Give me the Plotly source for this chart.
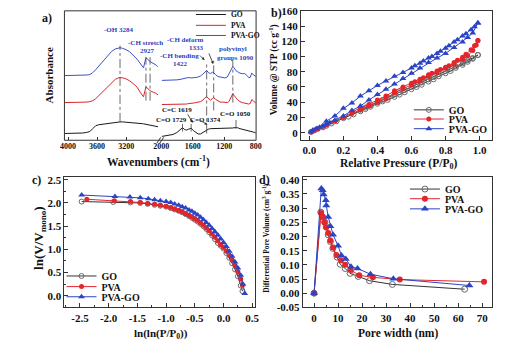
import plotly.graph_objects as go

W, H = 516, 352
FONT = "Liberation Serif"


def px(x):
    return x / W


def py(y):
    return 1 - y / H


# ---------------- (a) FTIR data ----------------
ftir_left_wn = [4050, 3900, 3800, 3750, 3700, 3660, 3620, 3580, 3540, 3500, 3450, 3400, 3350, 3300,
                3284, 3250, 3200, 3150, 3100, 3050, 3000, 2980, 2960, 2945, 2935, 2927, 2915, 2900,
                2880, 2860, 2840, 2820, 2800, 2780, 2760]
ftir_go_left = [7, 7, 7.5, 8, 9, 12, 15, 16, 16.5, 17, 17.3, 17.8, 18.5, 19,
                19, 19, 18.8, 18.5, 18.3, 18, 17.5, 17.2, 17, 16.8, 16.7, 16.6, 16.5, 16.3,
                16, 15.8, 15.6, 15.3, 15, 14.5, 14]
ftir_pva_left = [39, 39, 39, 39.5, 40, 41, 43, 46, 49, 52, 56, 60, 63, 64.8,
                 65, 64.7, 63.5, 61.5, 58.5, 55, 49, 47, 45, 50, 54, 55, 54.5, 53,
                 52, 51, 50, 49.5, 49, 48, 47]
ftir_pvago_left = [67, 67, 67.3, 67.5, 68, 70, 73, 76.5, 80, 83.5, 88, 92, 94.5, 95.7,
                   95.8, 95.2, 93.8, 91.5, 88, 84, 79, 77, 75, 80, 84.5, 85.5, 85, 83.5,
                   82, 81, 80.3, 79.5, 79, 77.5, 76]

ftir_right_wn = [1990, 1950, 1900, 1850, 1800, 1760, 1729, 1700, 1680, 1650, 1619, 1590, 1560, 1530,
                 1500, 1470, 1445, 1422, 1400, 1374, 1350, 1333, 1310, 1280, 1250, 1220, 1190, 1160,
                 1140, 1120, 1105, 1090, 1075, 1060, 1050, 1030, 1000, 970, 940, 910, 890, 870,
                 850, 830, 810, 800]
ftir_go_right = [4, 4.5, 5, 6, 8, 10.5, 13, 11, 10.5, 11.5, 12.5, 10, 8, 6.5,
                 6.5, 8, 10, 11, 11.5, 12, 12, 12, 12, 12, 12, 12, 12, 12,
                 12, 12.3, 12.5, 12.7, 13, 13.2, 13.3, 13, 12, 11.5, 11, 10.5, 10, 9.5,
                 9, 8.5, 8, 7.5]
ftir_pva_right = [37, 37, 37, 37, 37, 37.2, 37.5, 37.5, 37.5, 38, 38, 38.5, 39, 39.5,
                  40, 41.5, 44, 45, 43, 41.5, 43, 44, 42.5, 40.5, 39.5, 39.5, 39, 39,
                  40, 43, 46, 48.3, 46.5, 44.5, 44, 42, 40, 39, 38.5, 38, 37.5, 38,
                  42, 41, 39, 38.5]
ftir_pvago_right = [62, 62, 62, 62, 62.5, 63, 63.5, 64.5, 65, 65, 64.5, 64.5, 65, 65.5,
                    66.5, 68.5, 71, 72.3, 70, 69, 70.5, 70, 68, 66, 65.5, 65, 64.5, 65.5,
                    69, 72.5, 75, 76.5, 75, 73, 72, 71, 69.5, 69, 69, 67, 65, 65,
                    69.5, 68, 66.5, 66]

# marked bands: (wavenumber, low, high)
band_left = [(3284, 19, 98), (2927, 41, 86), (2870, 41, 86)]
band_right = [(1422, 7, 79), (1333, 31, 82), (1090, 39, 83), (1729, 9, 17), (1619, 9, 17), (1050, 12, 21)]

# ---------------- (b) isotherms ----------------
go_ads_p = [0.01, 0.03, 0.05, 0.08, 0.10, 0.13, 0.16, 0.20, 0.23, 0.26, 0.30, 0.33, 0.36, 0.40, 0.43,
            0.46, 0.50, 0.53, 0.56, 0.60, 0.63, 0.66, 0.70, 0.73, 0.76, 0.80, 0.83, 0.86, 0.90, 0.93,
            0.96, 0.99]
go_ads_v = [1, 3, 5, 7, 9, 12, 15, 19, 21, 24, 28, 31, 34, 38, 41,
            43, 47, 50, 53, 57, 60, 63, 67, 70, 74, 78, 81, 85, 89, 93,
            97, 102]
go_des_p = [0.99, 0.96, 0.93, 0.90, 0.86, 0.83, 0.80, 0.76, 0.73, 0.70, 0.66, 0.63, 0.60, 0.56,
            0.53, 0.50, 0.46, 0.43, 0.40, 0.36, 0.33, 0.30]
go_des_v = [102, 98, 95, 91, 87, 84, 81, 77, 73, 70, 66, 63, 60, 56,
            53, 50, 46, 43, 40, 36, 33, 30]

pva_ads_p = [0.01, 0.03, 0.05, 0.08, 0.10, 0.15, 0.20, 0.25, 0.30, 0.35, 0.40, 0.45, 0.50, 0.55,
             0.60, 0.65, 0.70, 0.75, 0.80, 0.85, 0.90, 0.93, 0.96, 0.98, 0.99]
pva_ads_v = [1, 3, 5, 8, 10, 15, 20, 25, 30, 35, 40, 45, 52, 58,
             63, 68, 74, 79, 85, 90, 96, 101, 108, 115, 121]
pva_des_p = [0.99, 0.97, 0.95, 0.92, 0.90, 0.87, 0.85, 0.82, 0.80, 0.77, 0.75, 0.72, 0.70, 0.67,
             0.65, 0.62, 0.60, 0.55, 0.50, 0.45, 0.40, 0.35, 0.30, 0.25]
pva_des_v = [121, 114, 109, 103, 99, 95, 92, 88, 86, 83, 81, 78, 76, 72,
             70, 67, 65, 60, 55, 48, 43, 37, 32, 27]

pvago_ads_p = [0.01, 0.02, 0.04, 0.06, 0.08, 0.10, 0.12, 0.15, 0.20, 0.25, 0.30, 0.35, 0.40, 0.45,
               0.50, 0.55, 0.60, 0.65, 0.70, 0.75, 0.80, 0.85, 0.90, 0.93, 0.96, 0.99]
pvago_ads_v = [1, 3, 5, 7, 9, 11, 13, 16, 22, 29, 35, 43, 50, 57,
               64, 71, 78, 85, 92, 98, 104, 112, 119, 125, 131, 144]
pvago_des_p = [0.99, 0.97, 0.95, 0.92, 0.90, 0.87, 0.85, 0.82, 0.80, 0.77, 0.75, 0.72, 0.70, 0.67,
               0.65, 0.62, 0.60, 0.55, 0.50, 0.45, 0.40, 0.35, 0.30, 0.25, 0.20, 0.15, 0.10]
pvago_des_v = [144, 139, 135, 130, 127, 122, 119, 114, 111, 107, 104, 100, 98, 94,
               91, 88, 85, 79, 74, 68, 62, 55, 48, 39, 32, 22, 15]

# ---------------- (c) FHH plot ----------------
c_go_x = [-2.47, -1.92, -1.62, -1.45, -1.32, -1.20, -1.10, -1.00, -0.92, -0.85, -0.78, -0.72, -0.66,
          -0.60, -0.55, -0.50, -0.45, -0.40, -0.35, -0.30, -0.25, -0.20, -0.15, -0.10, -0.05, 0.00,
          0.05, 0.10, 0.15, 0.20, 0.25, 0.30, 0.33]
c_go_y = [2.03, 2.02, 2.01, 2.00, 1.98, 1.96, 1.94, 1.92, 1.89, 1.86, 1.83, 1.80, 1.76,
          1.72, 1.68, 1.64, 1.60, 1.55, 1.50, 1.44, 1.37, 1.30, 1.22, 1.14, 1.08, 1.02,
          0.92, 0.82, 0.70, 0.57, 0.42, 0.22, 0.10]
c_pva_x = [-2.38, -1.90, -1.62, -1.45, -1.32, -1.20, -1.10, -1.00, -0.92, -0.85, -0.78, -0.72, -0.66,
           -0.60, -0.55, -0.50, -0.45, -0.40, -0.35, -0.30, -0.25, -0.20, -0.15, -0.10, -0.05, 0.00,
           0.05, 0.10, 0.15, 0.20, 0.25, 0.30, 0.33]
c_pva_y = [2.08, 2.05, 2.03, 2.01, 1.99, 1.97, 1.95, 1.93, 1.90, 1.87, 1.84, 1.81, 1.77,
           1.73, 1.70, 1.66, 1.62, 1.57, 1.52, 1.46, 1.40, 1.33, 1.26, 1.18, 1.10, 1.04,
           0.96, 0.87, 0.77, 0.65, 0.52, 0.36, 0.23]
c_pvago_x = [-2.47, -1.89, -1.63, -1.45, -1.31, -1.20, -1.10, -1.00, -0.92, -0.85, -0.78, -0.72, -0.66,
             -0.60, -0.55, -0.50, -0.45, -0.40, -0.35, -0.30, -0.25, -0.20, -0.15, -0.10, -0.05, 0.00,
             0.05, 0.10, 0.15, 0.20, 0.25, 0.30, 0.34, 0.37]
c_pvago_y = [2.17, 2.14, 2.13, 2.11, 2.09, 2.07, 2.05, 2.03, 2.01, 1.98, 1.95, 1.92, 1.89,
             1.85, 1.82, 1.78, 1.74, 1.69, 1.64, 1.58, 1.52, 1.45, 1.38, 1.31, 1.23, 1.15,
             1.06, 0.96, 0.85, 0.73, 0.60, 0.44, 0.25, 0.05]

# ---------------- (d) pore size distribution ----------------
d_go_x = [0, 2.8, 3.5, 4.5, 5.1, 5.9, 6.8, 7.8, 9.6, 10.9, 13.0, 15.0, 18.4, 23.1, 32.6, 62.7]
d_go_y = [0.0, 0.286, 0.269, 0.250, 0.235, 0.206, 0.182, 0.158, 0.127, 0.102, 0.087, 0.070, 0.059,
          0.044, 0.031, 0.014]
d_pva_x = [0, 2.9, 3.6, 4.3, 5.0, 5.9, 6.8, 7.9, 9.3, 11.2, 13.0, 15.3, 18.8, 24.5, 35.7, 70.8]
d_pva_y = [0.0, 0.283, 0.270, 0.250, 0.232, 0.212, 0.186, 0.161, 0.135, 0.116, 0.100, 0.082, 0.063,
           0.056, 0.048, 0.040]
d_pvago_x = [0, 3.0, 3.6, 4.0, 4.9, 5.1, 5.9, 6.8, 7.9, 10.0, 11.4, 13.2, 15.4, 18.1, 23.5, 33.0, 64.7]
d_pvago_y = [0.0, 0.369, 0.363, 0.348, 0.328, 0.309, 0.269, 0.236, 0.206, 0.167, 0.133, 0.121, 0.093,
             0.087, 0.067, 0.051, 0.027]

# ---------------- ticks ----------------
a_left_ticks = [4000, 3600, 3200]
a_right_ticks = [2000, 1600, 1200, 800]
b_xticks = [0.0, 0.2, 0.4, 0.6, 0.8, 1.0]
b_xtext = ["0.0", "0.2", "0.4", "0.6", "0.8", "1.0"]
b_yticks = [0, 20, 40, 60, 80, 100, 120, 140, 160]
c_xticks = [-2.5, -2.0, -1.5, -1.0, -0.5, 0.0, 0.5]
c_xtext = ["-2.5", "-2.0", "-1.5", "-1.0", "-0.5", "0.0", "0.5"]
c_yticks = [0.0, 0.5, 1.0, 1.5, 2.0, 2.5]
c_ytext = ["0.0", "0.5", "1.0", "1.5", "2.0", "2.5"]
d_xticks = [0, 10, 20, 30, 40, 50, 60, 70]
d_yticks = [-0.05, 0.0, 0.05, 0.10, 0.15, 0.20, 0.25, 0.30, 0.35, 0.40]
d_ytext = ["-0.05", "0.00", "0.05", "0.10", "0.15", "0.20", "0.25", "0.30", "0.35", "0.40"]

names = ["GO", "PVA", "PVA-GO"]
C_GO, C_PVA, C_PVAGO = "#333333", "#e3262b", "#2b44c4"
A_GO, A_PVA, A_PVAGO = "#1a1a1a", "#d8262c", "#3b50c6"
BLUE_TXT = "#2d3fb8"

fig = go.Figure()

# ---- panel a traces ----
a_cols = [A_GO, A_PVA, A_PVAGO]
a_left = [ftir_go_left, ftir_pva_left, ftir_pvago_left]
a_right = [ftir_go_right, ftir_pva_right, ftir_pvago_right]
for i in range(3):
    fig.add_trace(go.Scatter(x=ftir_left_wn, y=a_left[i], mode="lines", name=names[i],
                             line=dict(color=a_cols[i], width=1), xaxis="x", yaxis="y",
                             legend="legend" if i == 0 else f"legend{i + 1}"))
    fig.add_trace(go.Scatter(x=ftir_right_wn, y=a_right[i], mode="lines", name=names[i],
                             line=dict(color=a_cols[i], width=1), xaxis="x2", yaxis="y",
                             showlegend=False))

markers = [dict(symbol="circle-open", size=5, color="#6a6a6a", line=dict(width=1)),
           dict(symbol="circle", size=5, color=C_PVA),
           dict(symbol="triangle-up", size=6, color=C_PVAGO)]
lcols = [C_GO, C_PVA, C_PVAGO]

# ---- panel b ----
bx = [go_ads_p + go_des_p, pva_ads_p + pva_des_p, pvago_ads_p + pvago_des_p]
by = [go_ads_v + go_des_v, pva_ads_v + pva_des_v, pvago_ads_v + pvago_des_v]
for i in range(3):
    fig.add_trace(go.Scatter(x=bx[i], y=by[i], mode="lines+markers", name=names[i],
                             line=dict(color=lcols[i], width=1), marker=markers[i],
                             xaxis="x3", yaxis="y2", legend=f"legend{i + 4}"))

# ---- panel c ----
cx = [c_go_x, c_pva_x, c_pvago_x]
cy = [c_go_y, c_pva_y, c_pvago_y]
for i in range(3):
    fig.add_trace(go.Scatter(x=cx[i], y=cy[i], mode="lines+markers", name=names[i],
                             line=dict(color=lcols[i], width=1), marker=markers[i],
                             xaxis="x4", yaxis="y3", legend=f"legend{i + 7}"))

# ---- panel d ----
dxs = [d_go_x, d_pva_x, d_pvago_x]
dys = [d_go_y, d_pva_y, d_pvago_y]
dmarkers = [dict(symbol="circle-open", size=6, color="#6a6a6a", line=dict(width=1)),
            dict(symbol="circle", size=6, color=C_PVA),
            dict(symbol="triangle-up", size=7, color=C_PVAGO)]
for i in range(3):
    fig.add_trace(go.Scatter(x=dxs[i], y=dys[i], mode="lines+markers", name=names[i],
                             line=dict(color=lcols[i], width=1), marker=dmarkers[i],
                             xaxis="x5", yaxis="y4", legend=f"legend{i + 10}"))

tickfont = dict(family=FONT, size=11, color="#111", weight="bold")
small_tickfont = dict(family=FONT, size=8, color="#111", weight="bold")
LINE = "#333333"


def ax(domain, rng, anchor, **kw):
    d = dict(domain=domain, range=rng, anchor=anchor, showgrid=False, zeroline=False,
             showline=True, mirror=True, linecolor=LINE, linewidth=1,
             ticks="inside", ticklen=4, tickcolor=LINE, tickfont=tickfont)
    d.update(kw)
    return d


layout = dict(
    width=W, height=H, margin=dict(l=0, r=0, t=0, b=0), autosize=False,
    paper_bgcolor="white", plot_bgcolor="white",
    font=dict(family=FONT, color="#111", weight="bold"),
    xaxis=ax([px(58), px(155)], [4050, 2750], "y", showline=False, mirror=False,
             tickmode="array", tickvals=a_left_ticks, ticktext=[str(t) for t in a_left_ticks],
             tickfont=small_tickfont, ticklen=3),
    xaxis2=ax([px(157), px(255)], [2005, 795], "y", showline=False, mirror=False,
              tickmode="array", tickvals=a_right_ticks, ticktext=[str(t) for t in a_right_ticks],
              tickfont=small_tickfont, ticklen=3),
    yaxis=ax([py(139), py(5)], [0, 134], "x", showline=False, mirror=False,
             showticklabels=False, ticks=""),
    xaxis3=ax([px(301), px(497)], [-0.05, 1.07], "y2", tickmode="array",
              tickvals=b_xticks, ticktext=b_xtext),
    yaxis2=ax([py(139), py(5)], [-10, 160], "x3", tickmode="array",
              tickvals=b_yticks, ticktext=[str(t) for t in b_yticks]),
    xaxis4=ax([px(58), px(254)], [-2.77, 0.55], "y3", tickmode="array",
              tickvals=c_xticks, ticktext=c_xtext,
              minor=dict(ticks="inside", ticklen=2, tickcolor=LINE, tickmode="linear", tick0=0, dtick=0.25)),
    yaxis3=ax([py(312), py(177)], [-0.25, 2.56], "x4", tickmode="array",
              tickvals=c_yticks, ticktext=c_ytext,
              minor=dict(ticks="inside", ticklen=2, tickcolor=LINE, tickmode="linear", tick0=0, dtick=0.25)),
    xaxis5=ax([px(303), px(497)], [-4.7, 73.9], "y4", tickmode="array",
              tickvals=d_xticks, ticktext=[str(t) for t in d_xticks],
              minor=dict(ticks="inside", ticklen=2, tickcolor=LINE, tickmode="linear", tick0=0, dtick=5)),
    yaxis4=ax([py(312), py(177)], [-0.05, 0.41], "x5", tickmode="array",
              tickvals=d_yticks, ticktext=d_ytext),
)


def leg(xl, yc, size):
    return dict(x=px(xl), y=py(yc - 14.5), xanchor="left", yanchor="top",
                bgcolor="rgba(0,0,0,0)", borderwidth=0, itemwidth=30, tracegroupgap=0,
                font=dict(family=FONT, size=size, color="#111", weight="bold"))


leg_pos = [(188, 8, 7.5), (188, 19.5, 7.5), (188, 30, 7.5),
           (412, 107, 10), (412, 116.5, 10), (412, 126.5, 10),
           (55, 279, 10), (55, 290, 10), (55, 300.5, 10),
           (408, 189, 10), (408, 199, 10), (408, 209.5, 10)]
for k, (xl, yc, sz) in enumerate(leg_pos):
    key = "legend" if k == 0 else f"legend{k + 1}"
    layout[key] = leg(xl, yc, sz)

fig.update_layout(**layout)

# ---- shapes ----
shapes = [
    dict(type="rect", xref="paper", yref="paper", x0=px(58), x1=px(255), y0=py(139), y1=py(5),
         line=dict(color=LINE, width=1)),
    dict(type="line", xref="paper", yref="paper", x0=px(153), x1=px(157), y0=py(142), y1=py(136),
         line=dict(color=LINE, width=1)),
    dict(type="line", xref="paper", yref="paper", x0=px(156), x1=px(160), y0=py(142), y1=py(136),
         line=dict(color=LINE, width=1)),
]
for wn, lo, hi in band_left:
    shapes.append(dict(type="line", xref="x", yref="y", x0=wn, x1=wn, y0=lo, y1=hi,
                       line=dict(color="#444", width=0.8, dash="dashdot")))
for wn, lo, hi in band_right:
    shapes.append(dict(type="line", xref="x2", yref="y", x0=wn, x1=wn, y0=lo, y1=hi,
                       line=dict(color="#444", width=0.8, dash="dashdot")))
fig.update_layout(shapes=shapes)

# ---- annotations ----
ann = []


def txt(t, x, y, size, color="#111", angle=0):
    ann.append(dict(text=t, x=px(x), y=py(y), xref="paper", yref="paper", showarrow=False,
                    xanchor="center", yanchor="middle", textangle=angle,
                    font=dict(family=FONT, size=size, color=color, weight="bold")))


txt("a)", 40, 12, 12)
txt("b)", 276, 7, 12)
txt("c)", 29, 180, 12)
txt("d)", 264, 180, 12)
txt("Absorbance", 42, 72, 11, angle=-90)
txt("Wavenumbers (cm<sup>-1</sup>)", 155, 161, 11.5)
txt("Volume @ STP (cc g<sup>-1</sup>)", 273, 66, 9.5, angle=-90)
txt("Relative Pressure (P/P<sub>0</sub>)", 401, 164, 11.5)
txt("ln(V/V<sub>mono</sub>)", 33, 240, 13, angle=-90)
txt("ln(ln(P/P<sub>0</sub>))", 157, 340, 11)
txt("Pore width (nm)", 401, 339, 11.5)
txt("Differential Pore Volume (cm<sup>3</sup> g<sup>-1</sup>)", 265, 240, 7.5, angle=-90)

# band labels in panel a
txt("-OH 3284", 114, 25, 7, BLUE_TXT)
txt("-CH stretch", 141, 38, 7, BLUE_TXT)
txt("2927", 143, 47, 7, BLUE_TXT)
txt("-CH deform", 182, 35, 7, BLUE_TXT)
txt("1333", 194, 43, 7, BLUE_TXT)
txt("-CH bending", 176, 52, 7, BLUE_TXT)
txt("1422", 177, 60, 7, BLUE_TXT)
txt("polyvinyl", 231, 45, 7, BLUE_TXT)
txt("groups 1090", 234, 54, 7, BLUE_TXT)
txt("C=C 1619", 174, 108, 7)
txt("C=O 1729", 168, 118, 7)
txt("C=O 1374", 203, 118, 7)
txt("C=O 1050", 234, 112, 7)


def arrow(x, y, axp, ayp):
    ann.append(dict(text="", x=px(x), y=py(y), xref="paper", yref="paper", showarrow=True,
                    ax=axp - x, ay=ayp - y, arrowhead=2, arrowsize=0.7, arrowwidth=0.8,
                    arrowcolor="#222"))


arrow(202, 56, 196, 50)
arrow(211, 60, 206, 48)
arrow(190, 121, 184, 111)
arrow(205, 123, 197, 118)

fig.update_layout(annotations=ann)

fig.write_html("out.html")
